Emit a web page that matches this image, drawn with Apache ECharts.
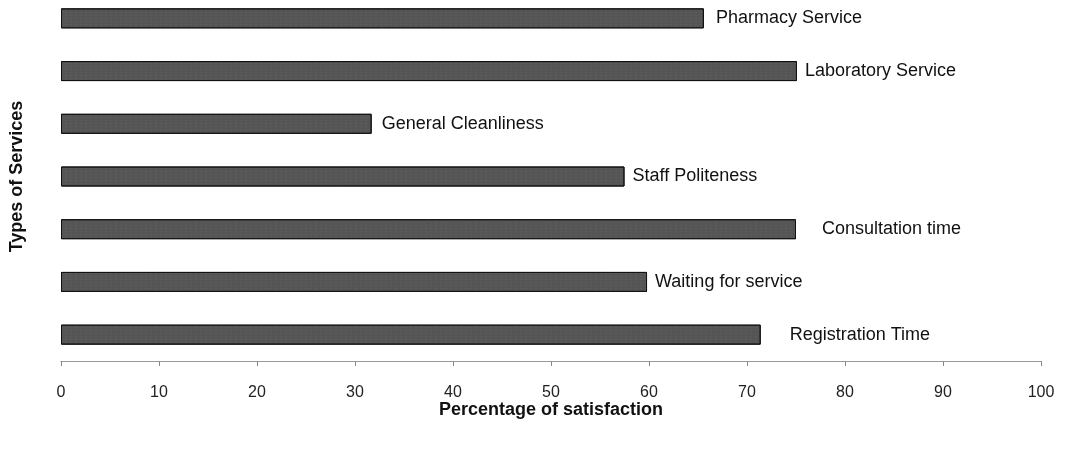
<!DOCTYPE html>
<html><head><meta charset="utf-8">
<script src="https://cdn.jsdelivr.net/npm/echarts@6/dist/echarts.min.js"></script>
<style>html,body{margin:0;padding:0;background:#fff}#c{width:1068px;height:449px}</style>
</head><body><div id="c"></div>
<script>
var categories = ['Registration Time','Waiting for service','Consultation time','Staff Politeness','General Cleanliness','Laboratory Service','Pharmacy Service'];
var satisfaction = [71.4, 59.8, 75.0, 57.5, 31.7, 75.1, 65.6];
var xTicks = [0,10,20,30,40,50,60,70,80,90,100];

var labelGaps = [29, 8, 26, 8, 10, 8, 12];

var chart = echarts.init(document.getElementById('c'));
chart.setOption({
  animation:false,
  grid:{left:61,right:27,top:-8,bottom:88,containLabel:false,outerBoundsMode:'none'},
  xAxis:{type:'value',min:xTicks[0],max:xTicks[xTicks.length-1],interval:10,
    name:'Percentage of satisfaction',nameLocation:'middle',nameGap:40,nameMoveOverlap:false,
    nameTextStyle:{fontFamily:'Liberation Sans, Arial',fontWeight:'bold',fontSize:18,color:'#111'},
    axisLine:{show:true,lineStyle:{color:'#999',width:1}},
    axisTick:{show:true,length:5,lineStyle:{color:'#888'}},
    axisLabel:{margin:24,fontFamily:'Liberation Sans, Arial',fontSize:16,color:'#222'},
    splitLine:{show:false}},
  yAxis:{type:'category',data:categories,
    name:'Types of Services',nameLocation:'middle',nameGap:35,nameRotate:90,
    nameTextStyle:{fontFamily:'Liberation Sans, Arial',fontWeight:'bold',fontSize:18,color:'#111'},
    axisLine:{show:false},axisTick:{show:false},axisLabel:{show:false}},
  series:[{type:'bar',barWidth:20,
    data:satisfaction.map(function(v,i){return {value:v,label:{distance:labelGaps[i]}};}),
    itemStyle:{color:'#555',borderColor:'#111',borderWidth:1,
      decal:{symbol:'rect',symbolSize:0.6,dashArrayX:[2,3],dashArrayY:[1,2],color:'rgba(170,170,170,0.35)',rotation:0}},
    label:{show:true,position:'right',formatter:function(p){return p.name;},
      fontFamily:'Liberation Sans, Arial',fontSize:18,color:'#111'}
  }]
});
</script></body></html>
